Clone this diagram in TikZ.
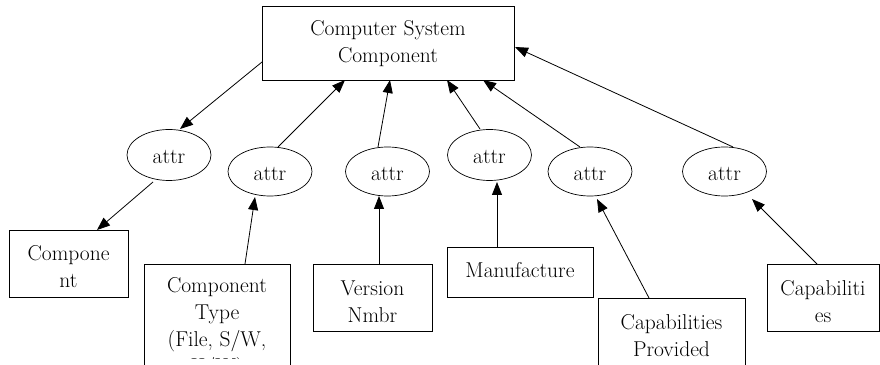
\documentclass[tikz,border=0pt]{standalone}
\usepackage{fontspec}
\usetikzlibrary{arrows.meta,shapes.geometric}

\tikzset{
  every node/.style={inner sep=0pt, outer sep=0pt},
  box/.style={draw=black, line width=0.9pt, rectangle},
  attrnode/.style={draw=black, line width=0.7pt, ellipse, minimum width=84pt, minimum height=49pt},
  lbl/.style={align=center, font=\fontsize{21.5}{27}\selectfont},
  link/.style={line width=0.8pt, -{Triangle[length=13pt,width=10pt]}}
}

\begin{document}
\begin{tikzpicture}[x=1pt,y=1pt]
\useasboundingbox (0,0) rectangle (880,364);
\clip (0,0) rectangle (880,364);

% root entity
\node[box, minimum width=252pt, minimum height=74pt] (top) at (388,321) {};
\node[lbl] (toptxt) at (388,320.5) {Computer System\\Component};

% attribute ellipses
\node[attrnode, minimum height=51pt] (e1) at (169,209) {};
\node[attrnode] (e2) at (270,192.5) {};
\node[attrnode] (e3) at (387.5,192.5) {};
\node[attrnode, minimum height=51pt] (e4) at (489.5,209) {};
\node[attrnode] (e5) at (590,192.5) {};
\node[attrnode] (e6) at (724.5,192.5) {};
\foreach \n in {e1,e2,e3,e4,e5,e6}
  \node[lbl] (\n t) at ([yshift=-2pt]\n.center) {attr};

% value boxes
\node[box, minimum width=119pt, minimum height=67pt] (b1) at (68.5,100.5) {};
\node[lbl] (b1t) at (68.5,97) {Compone\\nt};

\node[box, minimum width=146pt, minimum height=140pt] (b2) at (217,30) {};
\begin{scope}
  \clip (144,6) rectangle (290,100);
  \node[lbl] (b2t) at (217,35.5) {Component\\Type\\(File, S/W,\\H/W)};
\end{scope}

\node[box, minimum width=119pt, minimum height=67pt] (b3) at (372.5,66.5) {};
\node[lbl] (b3t) at (372.5,62.5) {Version\\Nmbr};

\node[box, minimum width=146pt, minimum height=50pt] (b4) at (520,92) {};
\node[lbl] (b4t) at (520,94) {Manufacture};

\node[box, minimum width=147pt, minimum height=100pt] (b5) at (671.5,16) {};
\node[lbl] (b5t) at (671.5,28.5) {Capabilities\\Provided};

\node[box, minimum width=112pt, minimum height=67pt] (b6) at (823,66.5) {};
\node[lbl] (b6t) at (823,62) {Capabiliti\\es};

% connectors between the root and the attributes
\draw[link] ([shift={(-126,-19)}]top.center) -- ([shift={(11,26)}]e1.center);
\draw[link] ([shift={(8,24.5)}]e2.center) -- ([shift={(-43,-37)}]top.center);
\draw[link] ([shift={(-9.5,24.5)}]e3.center) -- ([shift={(2,-37)}]top.center);
\draw[link] ([shift={(-9.5,26)}]e4.center) -- ([shift={(59,-37)}]top.center);
\draw[link] ([shift={(-10,24.5)}]e5.center) -- ([shift={(95,-37)}]top.center);
\draw[link] ([shift={(8.5,24.5)}]e6.center) -- ([shift={(127,-4)}]top.center);

% connectors between the attributes and their values
\draw[link] ([shift={(-16,-27)}]e1.center) -- ([shift={(28.5,33.5)}]b1.center);
\draw[link] ([shift={(28,70)}]b2.center) -- ([shift={(-15,-25.5)}]e2.center);
\draw[link] ([shift={(6.5,33.5)}]b3.center) -- ([shift={(-8.5,-24.5)}]e3.center);
\draw[link] ([shift={(-23,25)}]b4.center) -- ([shift={(7.5,-27)}]e4.center);
\draw[link] ([shift={(-22.5,50)}]b5.center) -- ([shift={(7,-27.5)}]e5.center);
\draw[link] ([shift={(-6,33.5)}]b6.center) -- ([shift={(27.5,-27.5)}]e6.center);
\end{tikzpicture}
\end{document}
